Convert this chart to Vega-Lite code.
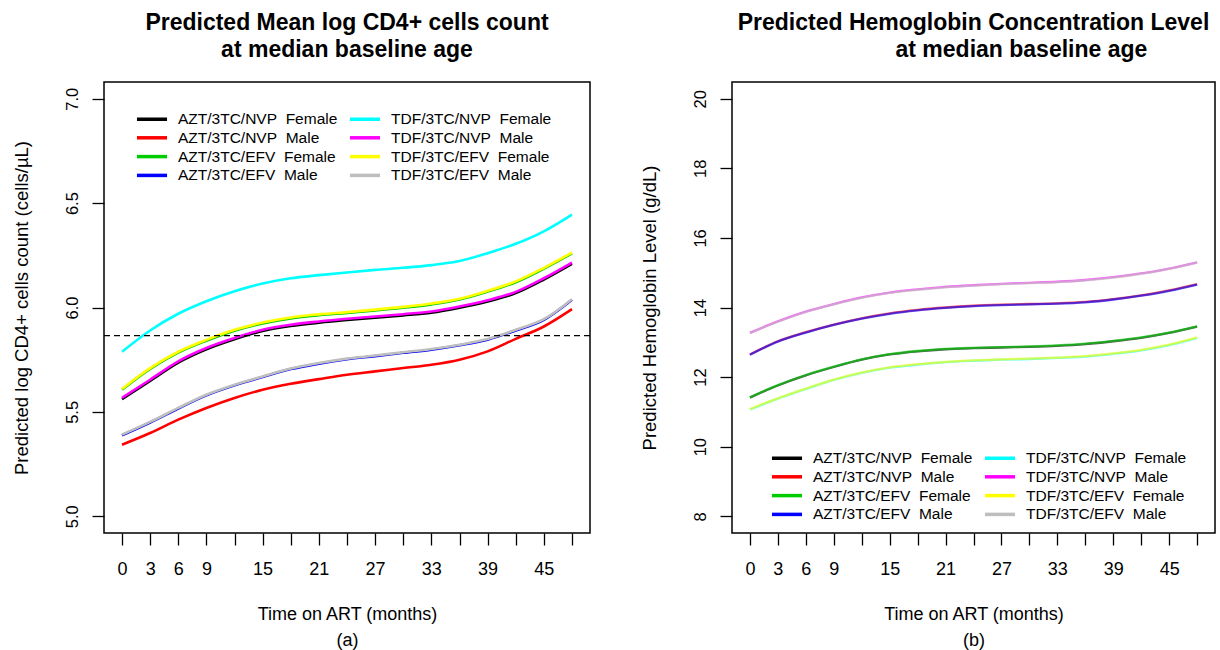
{
  "$schema": "https://vega.github.io/schema/vega-lite/v6.json",
  "background": "white",
  "padding": {"left": 11, "top": 11, "right": 0, "bottom": 0},
  "config": {
    "font": "Liberation Sans",
    "view": {"stroke": "black", "strokeWidth": 1.5},
    "axis": {"domain": false, "grid": false, "tickColor": "black", "tickSize": 12, "tickWidth": 1.3, "labelColor": "black", "titleColor": "black", "labelFont": "Liberation Sans", "titleFont": "Liberation Sans", "titleFontWeight": "normal"},
    "axisX": {"labelFontSize": 18, "titleFontSize": 18, "labelPadding": 15, "titlePadding": 27, "titleLineHeight": 26, "labelFlush": false, "labelOverlap": false},
    "axisY": {"labelFontSize": 16.5, "titleFontSize": 18.5, "labelAngle": -90, "labelAlign": "center", "labelBaseline": "alphabetic", "labelPadding": 15, "titlePadding": 33, "labelFlush": false, "labelOverlap": false},
    "title": {"font": "Liberation Sans", "fontSize": 23, "fontWeight": "bold", "lineHeight": 27, "anchor": "middle", "frame": "group", "color": "black", "offset": 20},
    "legend": {"orient": "none", "columns": 2, "title": null, "symbolType": "M-2.15,0H2.15", "symbolSize": 196, "symbolStrokeWidth": 3.5, "symbolOpacity": 1, "labelFontSize": 15.5, "labelColor": "black", "labelLimit": 300, "columnPadding": 4, "rowPadding": 0.8, "labelOffset": 17, "labelFont": "Liberation Sans"}
  },
  "datasets": {
    "cd4": [
      {"s":"AZT/3TC/NVP Female","t":0,"v":5.561},{"s":"AZT/3TC/NVP Female","t":3,"v":5.648},{"s":"AZT/3TC/NVP Female","t":6,"v":5.736},{"s":"AZT/3TC/NVP Female","t":9,"v":5.800},{"s":"AZT/3TC/NVP Female","t":12,"v":5.848},{"s":"AZT/3TC/NVP Female","t":15,"v":5.887},{"s":"AZT/3TC/NVP Female","t":18,"v":5.911},{"s":"AZT/3TC/NVP Female","t":21,"v":5.927},{"s":"AZT/3TC/NVP Female","t":24,"v":5.940},{"s":"AZT/3TC/NVP Female","t":27,"v":5.951},{"s":"AZT/3TC/NVP Female","t":30,"v":5.962},{"s":"AZT/3TC/NVP Female","t":33,"v":5.975},{"s":"AZT/3TC/NVP Female","t":36,"v":5.999},{"s":"AZT/3TC/NVP Female","t":39,"v":6.029},{"s":"AZT/3TC/NVP Female","t":42,"v":6.069},{"s":"AZT/3TC/NVP Female","t":45,"v":6.134},{"s":"AZT/3TC/NVP Female","t":48,"v":6.209},
      {"s":"AZT/3TC/NVP Male","t":0,"v":5.343},{"s":"AZT/3TC/NVP Male","t":3,"v":5.399},{"s":"AZT/3TC/NVP Male","t":6,"v":5.463},{"s":"AZT/3TC/NVP Male","t":9,"v":5.519},{"s":"AZT/3TC/NVP Male","t":12,"v":5.567},{"s":"AZT/3TC/NVP Male","t":15,"v":5.606},{"s":"AZT/3TC/NVP Male","t":18,"v":5.635},{"s":"AZT/3TC/NVP Male","t":21,"v":5.657},{"s":"AZT/3TC/NVP Male","t":24,"v":5.678},{"s":"AZT/3TC/NVP Male","t":27,"v":5.694},{"s":"AZT/3TC/NVP Male","t":30,"v":5.710},{"s":"AZT/3TC/NVP Male","t":33,"v":5.726},{"s":"AZT/3TC/NVP Male","t":36,"v":5.750},{"s":"AZT/3TC/NVP Male","t":39,"v":5.790},{"s":"AZT/3TC/NVP Male","t":42,"v":5.850},{"s":"AZT/3TC/NVP Male","t":45,"v":5.909},{"s":"AZT/3TC/NVP Male","t":48,"v":5.992},
      {"s":"AZT/3TC/EFV Female","t":0,"v":5.606},{"s":"AZT/3TC/EFV Female","t":3,"v":5.706},{"s":"AZT/3TC/EFV Female","t":6,"v":5.784},{"s":"AZT/3TC/EFV Female","t":9,"v":5.841},{"s":"AZT/3TC/EFV Female","t":12,"v":5.889},{"s":"AZT/3TC/EFV Female","t":15,"v":5.924},{"s":"AZT/3TC/EFV Female","t":18,"v":5.948},{"s":"AZT/3TC/EFV Female","t":21,"v":5.963},{"s":"AZT/3TC/EFV Female","t":24,"v":5.974},{"s":"AZT/3TC/EFV Female","t":27,"v":5.986},{"s":"AZT/3TC/EFV Female","t":30,"v":5.999},{"s":"AZT/3TC/EFV Female","t":33,"v":6.015},{"s":"AZT/3TC/EFV Female","t":36,"v":6.038},{"s":"AZT/3TC/EFV Female","t":39,"v":6.076},{"s":"AZT/3TC/EFV Female","t":42,"v":6.121},{"s":"AZT/3TC/EFV Female","t":45,"v":6.186},{"s":"AZT/3TC/EFV Female","t":48,"v":6.259},
      {"s":"AZT/3TC/EFV Male","t":0,"v":5.388},{"s":"AZT/3TC/EFV Male","t":3,"v":5.449},{"s":"AZT/3TC/EFV Male","t":6,"v":5.516},{"s":"AZT/3TC/EFV Male","t":9,"v":5.579},{"s":"AZT/3TC/EFV Male","t":12,"v":5.627},{"s":"AZT/3TC/EFV Male","t":15,"v":5.667},{"s":"AZT/3TC/EFV Male","t":18,"v":5.705},{"s":"AZT/3TC/EFV Male","t":21,"v":5.731},{"s":"AZT/3TC/EFV Male","t":24,"v":5.752},{"s":"AZT/3TC/EFV Male","t":27,"v":5.767},{"s":"AZT/3TC/EFV Male","t":30,"v":5.783},{"s":"AZT/3TC/EFV Male","t":33,"v":5.798},{"s":"AZT/3TC/EFV Male","t":36,"v":5.819},{"s":"AZT/3TC/EFV Male","t":39,"v":5.846},{"s":"AZT/3TC/EFV Male","t":42,"v":5.890},{"s":"AZT/3TC/EFV Male","t":45,"v":5.941},{"s":"AZT/3TC/EFV Male","t":48,"v":6.037},
      {"s":"TDF/3TC/NVP Female","t":0,"v":5.788},{"s":"TDF/3TC/NVP Female","t":3,"v":5.890},{"s":"TDF/3TC/NVP Female","t":6,"v":5.970},{"s":"TDF/3TC/NVP Female","t":9,"v":6.030},{"s":"TDF/3TC/NVP Female","t":12,"v":6.078},{"s":"TDF/3TC/NVP Female","t":15,"v":6.115},{"s":"TDF/3TC/NVP Female","t":18,"v":6.140},{"s":"TDF/3TC/NVP Female","t":21,"v":6.155},{"s":"TDF/3TC/NVP Female","t":24,"v":6.168},{"s":"TDF/3TC/NVP Female","t":27,"v":6.180},{"s":"TDF/3TC/NVP Female","t":30,"v":6.190},{"s":"TDF/3TC/NVP Female","t":33,"v":6.203},{"s":"TDF/3TC/NVP Female","t":36,"v":6.223},{"s":"TDF/3TC/NVP Female","t":39,"v":6.260},{"s":"TDF/3TC/NVP Female","t":42,"v":6.305},{"s":"TDF/3TC/NVP Female","t":45,"v":6.365},{"s":"TDF/3TC/NVP Female","t":48,"v":6.445},
      {"s":"TDF/3TC/NVP Male","t":0,"v":5.567},{"s":"TDF/3TC/NVP Male","t":3,"v":5.654},{"s":"TDF/3TC/NVP Male","t":6,"v":5.742},{"s":"TDF/3TC/NVP Male","t":9,"v":5.806},{"s":"TDF/3TC/NVP Male","t":12,"v":5.854},{"s":"TDF/3TC/NVP Male","t":15,"v":5.893},{"s":"TDF/3TC/NVP Male","t":18,"v":5.917},{"s":"TDF/3TC/NVP Male","t":21,"v":5.933},{"s":"TDF/3TC/NVP Male","t":24,"v":5.946},{"s":"TDF/3TC/NVP Male","t":27,"v":5.957},{"s":"TDF/3TC/NVP Male","t":30,"v":5.968},{"s":"TDF/3TC/NVP Male","t":33,"v":5.981},{"s":"TDF/3TC/NVP Male","t":36,"v":6.005},{"s":"TDF/3TC/NVP Male","t":39,"v":6.035},{"s":"TDF/3TC/NVP Male","t":42,"v":6.075},{"s":"TDF/3TC/NVP Male","t":45,"v":6.140},{"s":"TDF/3TC/NVP Male","t":48,"v":6.215},
      {"s":"TDF/3TC/EFV Female","t":0,"v":5.610},{"s":"TDF/3TC/EFV Female","t":3,"v":5.710},{"s":"TDF/3TC/EFV Female","t":6,"v":5.788},{"s":"TDF/3TC/EFV Female","t":9,"v":5.845},{"s":"TDF/3TC/EFV Female","t":12,"v":5.893},{"s":"TDF/3TC/EFV Female","t":15,"v":5.928},{"s":"TDF/3TC/EFV Female","t":18,"v":5.952},{"s":"TDF/3TC/EFV Female","t":21,"v":5.967},{"s":"TDF/3TC/EFV Female","t":24,"v":5.978},{"s":"TDF/3TC/EFV Female","t":27,"v":5.990},{"s":"TDF/3TC/EFV Female","t":30,"v":6.003},{"s":"TDF/3TC/EFV Female","t":33,"v":6.019},{"s":"TDF/3TC/EFV Female","t":36,"v":6.042},{"s":"TDF/3TC/EFV Female","t":39,"v":6.080},{"s":"TDF/3TC/EFV Female","t":42,"v":6.125},{"s":"TDF/3TC/EFV Female","t":45,"v":6.190},{"s":"TDF/3TC/EFV Female","t":48,"v":6.263},
      {"s":"TDF/3TC/EFV Male","t":0,"v":5.391},{"s":"TDF/3TC/EFV Male","t":3,"v":5.452},{"s":"TDF/3TC/EFV Male","t":6,"v":5.519},{"s":"TDF/3TC/EFV Male","t":9,"v":5.582},{"s":"TDF/3TC/EFV Male","t":12,"v":5.630},{"s":"TDF/3TC/EFV Male","t":15,"v":5.670},{"s":"TDF/3TC/EFV Male","t":18,"v":5.708},{"s":"TDF/3TC/EFV Male","t":21,"v":5.734},{"s":"TDF/3TC/EFV Male","t":24,"v":5.755},{"s":"TDF/3TC/EFV Male","t":27,"v":5.770},{"s":"TDF/3TC/EFV Male","t":30,"v":5.786},{"s":"TDF/3TC/EFV Male","t":33,"v":5.801},{"s":"TDF/3TC/EFV Male","t":36,"v":5.822},{"s":"TDF/3TC/EFV Male","t":39,"v":5.849},{"s":"TDF/3TC/EFV Male","t":42,"v":5.893},{"s":"TDF/3TC/EFV Male","t":45,"v":5.944},{"s":"TDF/3TC/EFV Male","t":48,"v":6.040}
    ],
    "hb": [
      {"s":"AZT/3TC/NVP Female","t":0,"v":11.41},{"s":"AZT/3TC/NVP Female","t":3,"v":11.76},{"s":"AZT/3TC/NVP Female","t":6,"v":12.05},{"s":"AZT/3TC/NVP Female","t":9,"v":12.29},{"s":"AZT/3TC/NVP Female","t":12,"v":12.50},{"s":"AZT/3TC/NVP Female","t":15,"v":12.65},{"s":"AZT/3TC/NVP Female","t":18,"v":12.74},{"s":"AZT/3TC/NVP Female","t":21,"v":12.80},{"s":"AZT/3TC/NVP Female","t":24,"v":12.83},{"s":"AZT/3TC/NVP Female","t":27,"v":12.85},{"s":"AZT/3TC/NVP Female","t":30,"v":12.87},{"s":"AZT/3TC/NVP Female","t":33,"v":12.90},{"s":"AZT/3TC/NVP Female","t":36,"v":12.95},{"s":"AZT/3TC/NVP Female","t":39,"v":13.03},{"s":"AZT/3TC/NVP Female","t":42,"v":13.13},{"s":"AZT/3TC/NVP Female","t":45,"v":13.27},{"s":"AZT/3TC/NVP Female","t":48,"v":13.45},
      {"s":"AZT/3TC/NVP Male","t":0,"v":12.65},{"s":"AZT/3TC/NVP Male","t":3,"v":13.03},{"s":"AZT/3TC/NVP Male","t":6,"v":13.29},{"s":"AZT/3TC/NVP Male","t":9,"v":13.51},{"s":"AZT/3TC/NVP Male","t":12,"v":13.69},{"s":"AZT/3TC/NVP Male","t":15,"v":13.83},{"s":"AZT/3TC/NVP Male","t":18,"v":13.93},{"s":"AZT/3TC/NVP Male","t":21,"v":14.00},{"s":"AZT/3TC/NVP Male","t":24,"v":14.05},{"s":"AZT/3TC/NVP Male","t":27,"v":14.08},{"s":"AZT/3TC/NVP Male","t":30,"v":14.10},{"s":"AZT/3TC/NVP Male","t":33,"v":14.12},{"s":"AZT/3TC/NVP Male","t":36,"v":14.16},{"s":"AZT/3TC/NVP Male","t":39,"v":14.24},{"s":"AZT/3TC/NVP Male","t":42,"v":14.35},{"s":"AZT/3TC/NVP Male","t":45,"v":14.49},{"s":"AZT/3TC/NVP Male","t":48,"v":14.67},
      {"s":"AZT/3TC/EFV Female","t":0,"v":11.42},{"s":"AZT/3TC/EFV Female","t":3,"v":11.77},{"s":"AZT/3TC/EFV Female","t":6,"v":12.06},{"s":"AZT/3TC/EFV Female","t":9,"v":12.30},{"s":"AZT/3TC/EFV Female","t":12,"v":12.51},{"s":"AZT/3TC/EFV Female","t":15,"v":12.66},{"s":"AZT/3TC/EFV Female","t":18,"v":12.75},{"s":"AZT/3TC/EFV Female","t":21,"v":12.81},{"s":"AZT/3TC/EFV Female","t":24,"v":12.84},{"s":"AZT/3TC/EFV Female","t":27,"v":12.86},{"s":"AZT/3TC/EFV Female","t":30,"v":12.88},{"s":"AZT/3TC/EFV Female","t":33,"v":12.91},{"s":"AZT/3TC/EFV Female","t":36,"v":12.96},{"s":"AZT/3TC/EFV Female","t":39,"v":13.04},{"s":"AZT/3TC/EFV Female","t":42,"v":13.14},{"s":"AZT/3TC/EFV Female","t":45,"v":13.28},{"s":"AZT/3TC/EFV Female","t":48,"v":13.46},
      {"s":"AZT/3TC/EFV Male","t":0,"v":12.64},{"s":"AZT/3TC/EFV Male","t":3,"v":13.02},{"s":"AZT/3TC/EFV Male","t":6,"v":13.28},{"s":"AZT/3TC/EFV Male","t":9,"v":13.50},{"s":"AZT/3TC/EFV Male","t":12,"v":13.68},{"s":"AZT/3TC/EFV Male","t":15,"v":13.82},{"s":"AZT/3TC/EFV Male","t":18,"v":13.92},{"s":"AZT/3TC/EFV Male","t":21,"v":13.99},{"s":"AZT/3TC/EFV Male","t":24,"v":14.04},{"s":"AZT/3TC/EFV Male","t":27,"v":14.07},{"s":"AZT/3TC/EFV Male","t":30,"v":14.09},{"s":"AZT/3TC/EFV Male","t":33,"v":14.11},{"s":"AZT/3TC/EFV Male","t":36,"v":14.15},{"s":"AZT/3TC/EFV Male","t":39,"v":14.23},{"s":"AZT/3TC/EFV Male","t":42,"v":14.34},{"s":"AZT/3TC/EFV Male","t":45,"v":14.48},{"s":"AZT/3TC/EFV Male","t":48,"v":14.66},
      {"s":"TDF/3TC/NVP Female","t":0,"v":11.07},{"s":"TDF/3TC/NVP Female","t":3,"v":11.38},{"s":"TDF/3TC/NVP Female","t":6,"v":11.66},{"s":"TDF/3TC/NVP Female","t":9,"v":11.92},{"s":"TDF/3TC/NVP Female","t":12,"v":12.12},{"s":"TDF/3TC/NVP Female","t":15,"v":12.27},{"s":"TDF/3TC/NVP Female","t":18,"v":12.36},{"s":"TDF/3TC/NVP Female","t":21,"v":12.43},{"s":"TDF/3TC/NVP Female","t":24,"v":12.47},{"s":"TDF/3TC/NVP Female","t":27,"v":12.50},{"s":"TDF/3TC/NVP Female","t":30,"v":12.52},{"s":"TDF/3TC/NVP Female","t":33,"v":12.55},{"s":"TDF/3TC/NVP Female","t":36,"v":12.59},{"s":"TDF/3TC/NVP Female","t":39,"v":12.67},{"s":"TDF/3TC/NVP Female","t":42,"v":12.77},{"s":"TDF/3TC/NVP Female","t":45,"v":12.92},{"s":"TDF/3TC/NVP Female","t":48,"v":13.13},
      {"s":"TDF/3TC/NVP Male","t":0,"v":13.27},{"s":"TDF/3TC/NVP Male","t":3,"v":13.60},{"s":"TDF/3TC/NVP Male","t":6,"v":13.88},{"s":"TDF/3TC/NVP Male","t":9,"v":14.10},{"s":"TDF/3TC/NVP Male","t":12,"v":14.29},{"s":"TDF/3TC/NVP Male","t":15,"v":14.43},{"s":"TDF/3TC/NVP Male","t":18,"v":14.52},{"s":"TDF/3TC/NVP Male","t":21,"v":14.59},{"s":"TDF/3TC/NVP Male","t":24,"v":14.64},{"s":"TDF/3TC/NVP Male","t":27,"v":14.68},{"s":"TDF/3TC/NVP Male","t":30,"v":14.71},{"s":"TDF/3TC/NVP Male","t":33,"v":14.74},{"s":"TDF/3TC/NVP Male","t":36,"v":14.79},{"s":"TDF/3TC/NVP Male","t":39,"v":14.87},{"s":"TDF/3TC/NVP Male","t":42,"v":14.98},{"s":"TDF/3TC/NVP Male","t":45,"v":15.12},{"s":"TDF/3TC/NVP Male","t":48,"v":15.30},
      {"s":"TDF/3TC/EFV Female","t":0,"v":11.08},{"s":"TDF/3TC/EFV Female","t":3,"v":11.39},{"s":"TDF/3TC/EFV Female","t":6,"v":11.67},{"s":"TDF/3TC/EFV Female","t":9,"v":11.93},{"s":"TDF/3TC/EFV Female","t":12,"v":12.13},{"s":"TDF/3TC/EFV Female","t":15,"v":12.28},{"s":"TDF/3TC/EFV Female","t":18,"v":12.37},{"s":"TDF/3TC/EFV Female","t":21,"v":12.44},{"s":"TDF/3TC/EFV Female","t":24,"v":12.48},{"s":"TDF/3TC/EFV Female","t":27,"v":12.51},{"s":"TDF/3TC/EFV Female","t":30,"v":12.53},{"s":"TDF/3TC/EFV Female","t":33,"v":12.56},{"s":"TDF/3TC/EFV Female","t":36,"v":12.60},{"s":"TDF/3TC/EFV Female","t":39,"v":12.68},{"s":"TDF/3TC/EFV Female","t":42,"v":12.78},{"s":"TDF/3TC/EFV Female","t":45,"v":12.93},{"s":"TDF/3TC/EFV Female","t":48,"v":13.14},
      {"s":"TDF/3TC/EFV Male","t":0,"v":13.26},{"s":"TDF/3TC/EFV Male","t":3,"v":13.59},{"s":"TDF/3TC/EFV Male","t":6,"v":13.87},{"s":"TDF/3TC/EFV Male","t":9,"v":14.09},{"s":"TDF/3TC/EFV Male","t":12,"v":14.28},{"s":"TDF/3TC/EFV Male","t":15,"v":14.42},{"s":"TDF/3TC/EFV Male","t":18,"v":14.51},{"s":"TDF/3TC/EFV Male","t":21,"v":14.58},{"s":"TDF/3TC/EFV Male","t":24,"v":14.63},{"s":"TDF/3TC/EFV Male","t":27,"v":14.67},{"s":"TDF/3TC/EFV Male","t":30,"v":14.70},{"s":"TDF/3TC/EFV Male","t":33,"v":14.73},{"s":"TDF/3TC/EFV Male","t":36,"v":14.78},{"s":"TDF/3TC/EFV Male","t":39,"v":14.86},{"s":"TDF/3TC/EFV Male","t":42,"v":14.97},{"s":"TDF/3TC/EFV Male","t":45,"v":15.11},{"s":"TDF/3TC/EFV Male","t":48,"v":15.29}
    ]
  },
  "spacing": 47,
  "resolve": {"scale": {"color": "independent", "x": "independent", "y": "independent"}, "legend": {"color": "independent"}},
  "hconcat": [
    {
      "width": 486,
      "height": 451,
      "title": {"text": ["Predicted Mean log CD4+ cells count", "at median baseline age"]},
      "layer": [
        {
          "data": {"name": "cd4"},
          "mark": {"type": "line", "strokeWidth": 2.6, "interpolate": "monotone"},
          "encoding": {
            "x": {"field": "t", "type": "quantitative", "scale": {"domain": [-1.92, 49.92], "nice": false, "zero": false},
              "axis": {"values": [0,3,6,9,12,15,18,21,24,27,30,33,36,39,42,45,48], "labelExpr": "indexof([12,18,24,30,36,42,48], datum.value) >= 0 ? '' : datum.label", "title": ["Time on ART (months)", "(a)"]}},
            "y": {"field": "v", "type": "quantitative", "scale": {"domain": [4.92, 7.08], "nice": false, "zero": false},
              "axis": {"values": [5, 5.5, 6, 6.5, 7], "format": ".1f", "title": "Predicted log CD4+ cells count (cells/µL)"}},
            "color": {"field": "s", "type": "nominal",
              "scale": {"domain": ["AZT/3TC/NVP Female","AZT/3TC/NVP Male","AZT/3TC/EFV Female","AZT/3TC/EFV Male","TDF/3TC/NVP Female","TDF/3TC/NVP Male","TDF/3TC/EFV Female","TDF/3TC/EFV Male"],
                "range": ["#000000","#FF0000","#00CD00","#0000FF","#00FFFF","#FF00FF","#FFFF00","#BEBEBE"]},
              "legend": {"legendX": 39, "legendY": 28, "labelExpr": "replace(datum.label, ' ', '\u00a0\u00a0')"}}
          }
        },
        {
          "data": {"values": [{"ref": 5.865}]},
          "mark": {"type": "rule", "color": "black", "strokeWidth": 1.2, "strokeDash": [6, 4]},
          "encoding": {"y": {"field": "ref", "type": "quantitative"}}
        }
      ]
    },
    {
      "width": 483,
      "height": 451,
      "title": {"text": ["Predicted Hemoglobin Concentration Level", "\u200b\u00a0\u00a0\u00a0\u00a0\u00a0\u00a0\u00a0\u00a0\u00a0\u00a0\u00a0\u00a0\u00a0\u00a0\u00a0at median baseline age"]},
      "data": {"name": "hb"},
      "mark": {"type": "line", "strokeWidth": 2.3, "opacity": 0.65, "interpolate": "monotone"},
      "encoding": {
        "x": {"field": "t", "type": "quantitative", "scale": {"domain": [-1.92, 49.92], "nice": false, "zero": false},
          "axis": {"values": [0,3,6,9,12,15,18,21,24,27,30,33,36,39,42,45,48], "labelExpr": "indexof([12,18,24,30,36,42,48], datum.value) >= 0 ? '' : datum.label", "title": ["Time on ART (months)", "(b)"]}},
        "y": {"field": "v", "type": "quantitative", "scale": {"domain": [7.52, 20.48], "nice": false, "zero": false},
          "axis": {"values": [8, 10, 12, 14, 16, 18, 20], "title": "Predicted Hemoglobin Level (g/dL)"}},
        "color": {"field": "s", "type": "nominal",
          "scale": {"domain": ["AZT/3TC/NVP Female","AZT/3TC/NVP Male","AZT/3TC/EFV Female","AZT/3TC/EFV Male","TDF/3TC/NVP Female","TDF/3TC/NVP Male","TDF/3TC/EFV Female","TDF/3TC/EFV Male"],
            "range": ["#000000","#FF0000","#00CD00","#0000FF","#00FFFF","#FF00FF","#FFFF00","#BEBEBE"]},
          "legend": {"legendX": 46, "legendY": 367, "labelExpr": "replace(datum.label, ' ', '\u00a0\u00a0')"}}
      }
    }
  ]
}
